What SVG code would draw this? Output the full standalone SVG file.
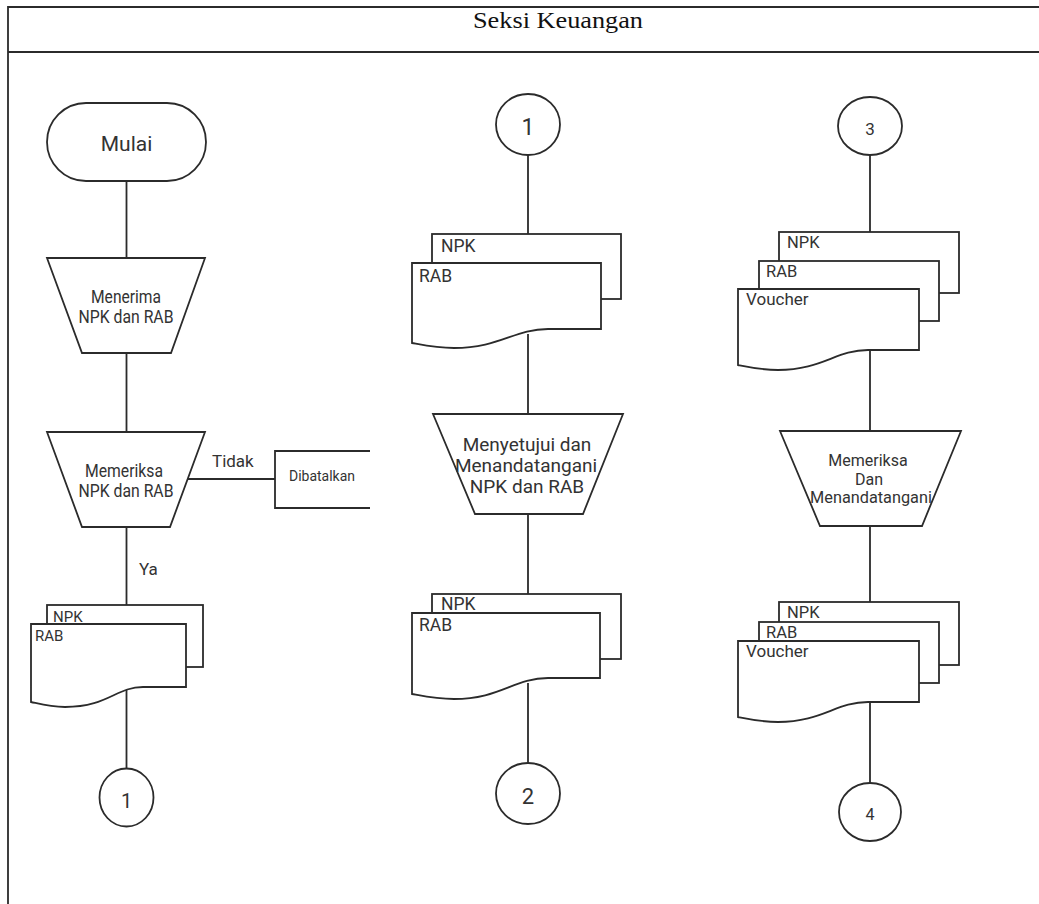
<svg xmlns="http://www.w3.org/2000/svg" width="1039" height="904" viewBox="0 0 1039 904">
<style>
.s{fill:#fff;stroke:#2b2b2b;stroke-width:1.8}
.o{fill:none;stroke:#2b2b2b;stroke-width:1.8}
.c{fill:none;stroke:#2b2b2b;stroke-width:1.8}
.t{font-family:Roboto,"Noto Sans",sans-serif;fill:#333}
.m{text-anchor:middle}
</style>
<rect x="0" y="0" width="1039" height="904" fill="#fff"/>
<g id="frame">
<path class="o" d="M8,904 V7 H1039 M8,52 H1039" stroke-width="2.2"/>
<text x="558" y="28" font-family="'Liberation Serif',serif" font-size="24" text-anchor="middle" textLength="170" lengthAdjust="spacingAndGlyphs" fill="#111">Seksi Keuangan</text>
</g>
<g id="connectors">
<path class="c" d="M126.5,181 V258 M126.5,353 V432 M126.5,527 V605 M126.5,690 V768 M188,479 H275"/>
<path class="c" d="M528,155 V234 M528,334 V414 M528,514 V594 M528,683 V763"/>
<path class="c" d="M870,155 V232 M870,351 V431 M870,526 V602 M870,703 V783"/>
<text class="t" x="212" y="467" font-size="17">Tidak</text>
<text class="t" x="139" y="575" font-size="17">Ya</text>
</g>
<g id="mulai">
<rect class="s" x="47" y="103" width="159" height="78" rx="39"/>
<text class="t m" x="126.5" y="151" font-size="21">Mulai</text>
</g>
<g id="menerima">
<path class="s" d="M47,258 H205 L171,353 H82 Z"/>
<text class="t m" x="126" y="303" font-size="17.5" textLength="70" lengthAdjust="spacingAndGlyphs">Menerima</text>
<text class="t m" x="126" y="323" font-size="17.5" textLength="95" lengthAdjust="spacingAndGlyphs">NPK dan RAB</text>
</g>
<g id="memeriksa1">
<path class="s" d="M47,432 H205 L170,527 H82 Z"/>
<text class="t m" x="124" y="477" font-size="17.5" textLength="78" lengthAdjust="spacingAndGlyphs">Memeriksa</text>
<text class="t m" x="126" y="497" font-size="17.5" textLength="95" lengthAdjust="spacingAndGlyphs">NPK dan RAB</text>
</g>
<g id="dibatalkan">
<path class="o" d="M370,451 H275 V508 H370"/>
<text class="t" x="289" y="481" font-size="14" textLength="66" lengthAdjust="spacingAndGlyphs">Dibatalkan</text>
</g>
<g id="doc1">
<rect class="s" x="47" y="605" width="156" height="62"/>
<path class="s" d="M31,624 H186 V687 H143 C116,687 108,707 65,707 C50,707 40,704 31,702 Z"/>
<text class="t" x="53" y="622" font-size="15">NPK</text>
<text class="t" x="35" y="641" font-size="15">RAB</text>
</g>
<g id="con1a">
<ellipse class="s" cx="126.5" cy="797.5" rx="27" ry="29"/>
<text class="t m" x="126.5" y="808" font-size="20">1</text>
</g>
<g id="con1b">
<ellipse class="s" cx="528" cy="124.5" rx="32" ry="30.5"/>
<text class="t m" x="528" y="135" font-size="23">1</text>
</g>
<g id="doc2">
<rect class="s" x="432" y="234" width="189" height="65"/>
<path class="s" d="M412,263 H601 V329 H548 C514,329 500,348 454,348 C437,348 423,345 412,343 Z"/>
<text class="t" x="441" y="252" font-size="17.5">NPK</text>
<text class="t" x="419" y="282" font-size="17.5">RAB</text>
</g>
<g id="menyetujui">
<path class="s" d="M433,414 H623 L583,514 H475 Z"/>
<text class="t m" x="527" y="451" font-size="19">Menyetujui dan</text>
<text class="t m" x="526" y="472" font-size="19">Menandatangani</text>
<text class="t m" x="527" y="493" font-size="19">NPK dan RAB</text>
</g>
<g id="doc3">
<rect class="s" x="432" y="594" width="189" height="65"/>
<path class="s" d="M412,613 H600 V678 H548 C514,678 500,699 454,699 C437,699 423,696 412,694 Z"/>
<text class="t" x="441" y="610" font-size="17.5">NPK</text>
<text class="t" x="419" y="631" font-size="17.5">RAB</text>
</g>
<g id="con2">
<ellipse class="s" cx="528" cy="793.5" rx="32" ry="30.5"/>
<text class="t m" x="528" y="804" font-size="22">2</text>
</g>
<g id="con3">
<ellipse class="s" cx="870" cy="126" rx="32" ry="29"/>
<text class="t m" x="870" y="135" font-size="17">3</text>
</g>
<g id="doc4">
<rect class="s" x="779" y="232" width="180" height="61"/>
<rect class="s" x="759" y="261" width="180" height="60"/>
<path class="s" d="M738,289 H919 V350 H868 C836,350 822,370 778,370 C762,370 748,367 738,365 Z"/>
<text class="t" x="787" y="248" font-size="16.5">NPK</text>
<text class="t" x="766" y="277" font-size="16.5">RAB</text>
<text class="t" x="746" y="305" font-size="17">Voucher</text>
</g>
<g id="memeriksa2">
<path class="s" d="M780,431 H961 L922,526 H820 Z"/>
<text class="t m" x="868" y="466" font-size="16">Memeriksa</text>
<text class="t m" x="869" y="485" font-size="16">Dan</text>
<text class="t m" x="871" y="503" font-size="16.3">Menandatangani</text>
</g>
<g id="doc5">
<rect class="s" x="779" y="602" width="180" height="63"/>
<rect class="s" x="759" y="622" width="180" height="61"/>
<path class="s" d="M738,641 H919 V702 H868 C836,702 822,722 778,722 C762,722 748,719 738,717 Z"/>
<text class="t" x="787" y="618" font-size="16.5">NPK</text>
<text class="t" x="766" y="638" font-size="16.5">RAB</text>
<text class="t" x="746" y="657" font-size="17">Voucher</text>
</g>
<g id="con4">
<ellipse class="s" cx="870" cy="812" rx="31" ry="29"/>
<text class="t m" x="870" y="820" font-size="16">4</text>
</g>
</svg>
